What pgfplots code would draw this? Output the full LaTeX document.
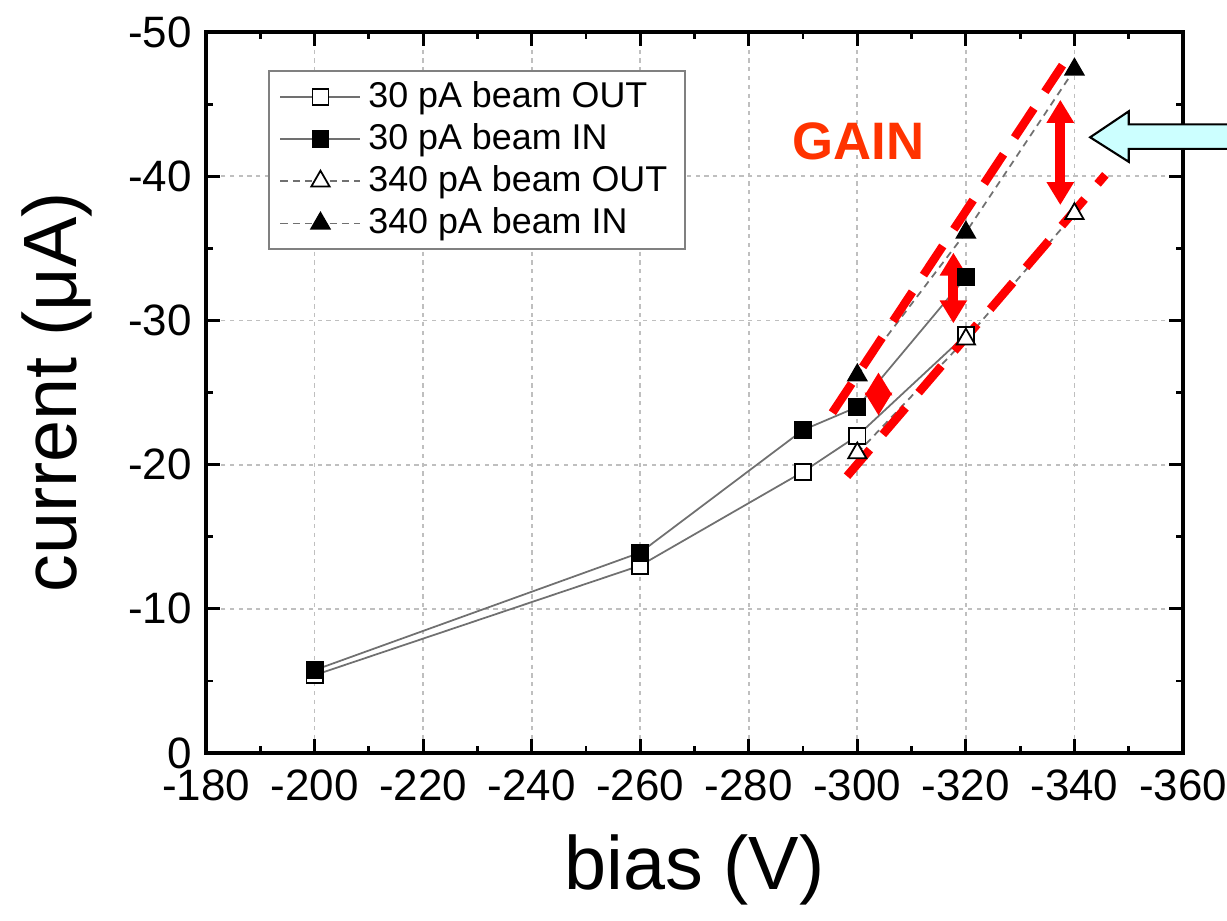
\documentclass[border=0pt]{standalone}
\usepackage{fontspec}
\setmainfont{Liberation Sans}
\usepackage{pgfplots}
\pgfplotsset{compat=1.18}
\usetikzlibrary{arrows.meta}
\definecolor{gainred}{HTML}{FF3300}
\definecolor{paleblue}{HTML}{CCFFFF}
\definecolor{linegray}{HTML}{707070}

\begin{document}
\begin{tikzpicture}
% page frame: 1227 x 920 px at 0.1 mm per px, axis box lower left at (206,753)
\path[use as bounding box] (-20.6mm,-16.7mm) rectangle (102.1mm,75.3mm);
\begin{axis}[
  at={(0,0)},anchor=south west,
  scale only axis,width=97.7mm,height=72.1mm,
  x dir=reverse,y dir=reverse,
  xmin=-360,xmax=-180,ymin=-50,ymax=0,
  xtick={-360,-340,...,-180},ytick={-50,-40,...,0},
  minor x tick num=1,minor y tick num=1,
  major tick length=1.4mm,minor tick length=0.7mm,
  tick style={black,line width=0.8pt},
  axis line style={line width=1pt},
  grid=major,
  major grid style={gray!50,line width=0.5pt,dash pattern=on 1.2pt off 1.3pt},
  /pgf/number format/assume math mode=true,
  tick label style={font=\fontsize{12.5}{14}\selectfont},
  xticklabel style={yshift=-0.4mm},
  yticklabel style={xshift=-0.2mm},
  xlabel={bias (V)},ylabel={current (μA)},
  label style={font=\fontsize{21.5}{25}\selectfont},
  xlabel style={at={(axis description cs:0.5,-0.162)},anchor=center},
  ylabel style={at={(axis description cs:-0.153,0.5)},anchor=center},
  legend cell align=left,
  legend image code/.code={\draw[mark repeat=2,mark phase=2]
    plot coordinates {(0mm,0mm) (4mm,0mm) (8mm,0mm)};},
  legend style={at={(0.063,0.947)},anchor=north west,
    font=\fontsize{10.2}{12}\selectfont,draw=gray,line width=0.6pt,
    fill=white,inner xsep=1.1mm,inner ysep=0.3mm,row sep=-0.9pt},
  clip=false,
]
\addplot[linegray,line width=0.5pt,mark=square*,mark size=2.3pt,
  mark options={solid,fill=white,draw=black,line width=0.5pt}] coordinates {
  (-200,-5.4) (-260,-13.0) (-290,-19.5) (-300,-22.0) (-320,-29.0)
};
\addlegendentry{30 pA beam OUT}
\addplot[linegray,line width=0.5pt,mark=square*,mark size=2.3pt,
  mark options={solid,fill=black,draw=black,line width=0.5pt}] coordinates {
  (-200,-5.75) (-260,-13.9) (-290,-22.4) (-300,-24.0) (-320,-33.0)
};
\addlegendentry{30 pA beam IN}
\addplot[linegray,line width=0.5pt,dash pattern=on 2pt off 1.5pt,mark=triangle*,mark size=3pt,
  mark options={solid,fill=white,draw=black,line width=0.5pt}] coordinates {
  (-300,-20.8) (-320,-28.7) (-340,-37.4)
};
\addlegendentry{340 pA beam OUT}
\addplot[linegray,line width=0.5pt,dash pattern=on 2pt off 1.5pt,mark=triangle*,mark size=3pt,
  mark options={solid,fill=black,draw=black,line width=0.5pt}] coordinates {
  (-300,-26.2) (-320,-36.1) (-340,-47.4)
};
\addlegendentry{340 pA beam IN}

% annotations
\draw[red,line width=0.85mm,dash pattern=on 3.5mm off 2mm]
  (axis cs:-295.4,-23.6) -- (axis cs:-337.8,-47.7);
\draw[red,line width=0.85mm,dash pattern=on 3.5mm off 2mm]
  (axis cs:-298.1,-19.2) -- (axis cs:-345.7,-40.1);
\tikzset{gainarrow/.style={red,line width=1mm,
  {Triangle[length=2.3mm,width=2.6mm]}-{Triangle[length=2.3mm,width=2.6mm]}}}
\draw[gainarrow] (axis cs:-337.4,-45.3) -- (axis cs:-337.4,-38.0);
\draw[gainarrow] (axis cs:-317.7,-34.7) -- (axis cs:-317.7,-29.8);
\draw[gainarrow] (axis cs:-303.9,-26.4) -- (axis cs:-303.9,-23.4);
\node[text=gainred,font=\bfseries\fontsize{15}{18}\selectfont]
  at (axis cs:-300.2,-42.4) {GAIN};
\draw[fill=paleblue,draw=black,line width=0.6pt]
  (axis cs:-342.9,-42.7) -- (axis cs:-350,-44.5) -- (axis cs:-350,-43.6)
  -- (axis cs:-372,-43.6) -- (axis cs:-372,-41.9) -- (axis cs:-350,-41.9)
  -- (axis cs:-350,-41.0) -- cycle;
\end{axis}
\end{tikzpicture}
\end{document}
